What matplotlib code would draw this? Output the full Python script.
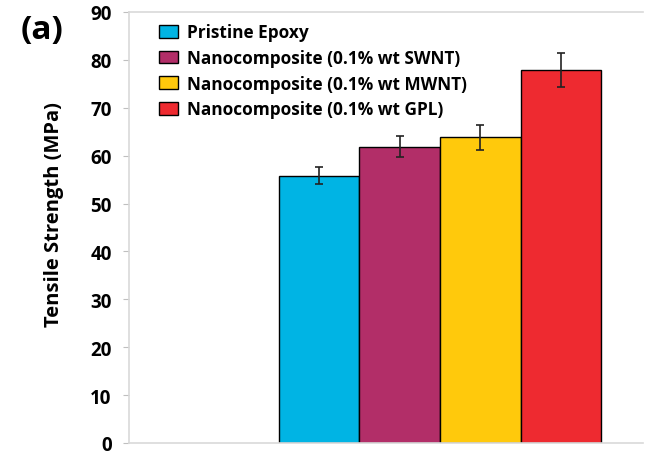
import matplotlib
matplotlib.use("Agg")
import matplotlib.pyplot as plt
from matplotlib.patches import Patch

labels = ["Pristine Epoxy", "Nanocomposite (0.1% wt SWNT)",
          "Nanocomposite (0.1% wt MWNT)", "Nanocomposite (0.1% wt GPL)"]
strength = [55.8, 61.9, 63.8, 77.9]
err = [1.8, 2.2, 2.6, 3.5]
colors = ["#00B4E4", "#B22E68", "#FFC90C", "#EE2A30"]
yticks = list(range(0, 91, 10))

plt.rcParams["font.family"] = ["Open Sans", "DejaVu Sans"]
plt.rcParams["font.weight"] = "bold"

W, H = 645, 456
fig = plt.figure(figsize=(W / 100, H / 100), dpi=100)
ax = fig.add_axes([129 / W, 1 - 444 / H, (643 - 129) / W, (444 - 13) / H])

x = range(len(strength))
ax.bar(x, strength, width=1.0, color=colors, edgecolor="black", linewidth=1.0,
       yerr=err, capsize=3.0, error_kw=dict(ecolor="#222222", elinewidth=1.2, capthick=1.2))

ax.set_xlim(-2.36, 4.02)
ax.set_ylim(0, 90)
ax.set_yticks(yticks)
ax.set_xticks([])
ax.tick_params(axis="y", direction="out", length=4.5, width=0.8, color="#bfbfbf",
               labelsize=13.5, pad=8)
for lab in ax.get_yticklabels():
    lab.set_fontweight("bold")
for side in ["left", "bottom", "top"]:
    ax.spines[side].set_color("#d9d9d9")
    ax.spines[side].set_linewidth(1.2)
ax.spines["right"].set_visible(False)

ax.set_ylabel("Tensile Strength (MPa)", fontsize=14.5, fontweight="bold")
ax.yaxis.set_label_coords((64 - 129) / (643 - 129), (444 - 215) / (444 - 13))

handles = [Patch(facecolor=c, edgecolor="black", linewidth=1.0) for c in colors]
ax.legend(handles, labels, loc="upper left", bbox_to_anchor=(0.045, 0.99), frameon=False,
          prop=dict(size=12.4, weight="bold"), handlelength=1.1, handleheight=0.75,
          handletextpad=0.5, labelspacing=0.45, borderaxespad=0)

fig.text(21 / W, 1 - 30 / H, "(a)", fontsize=24, fontweight="bold", va="center", ha="left")

fig.savefig("out.png", dpi=100)
